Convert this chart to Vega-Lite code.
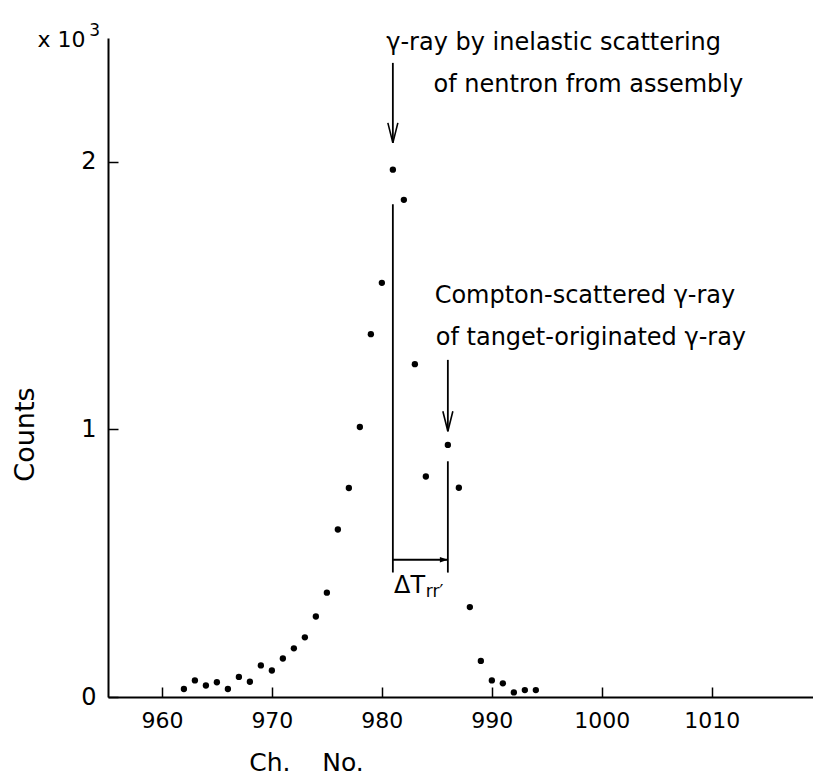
{
  "$schema": "https://vega.github.io/schema/vega-lite/v6.json",
  "width": 705,
  "height": 659,
  "autosize": {"type": "none"},
  "padding": {"left": 108, "top": 38, "right": 0, "bottom": 81},
  "background": "white",
  "config": {"view": {"stroke": null}, "font": "DejaVu Sans"},
  "datasets": {
    "spectrum": [
      {"ch": 962, "counts": 30}, {"ch": 963, "counts": 62}, {"ch": 964, "counts": 43},
      {"ch": 965, "counts": 55}, {"ch": 966, "counts": 30}, {"ch": 967, "counts": 75},
      {"ch": 968, "counts": 57}, {"ch": 969, "counts": 118}, {"ch": 970, "counts": 99},
      {"ch": 971, "counts": 144}, {"ch": 972, "counts": 182}, {"ch": 973, "counts": 223},
      {"ch": 974, "counts": 301}, {"ch": 975, "counts": 390}, {"ch": 976, "counts": 626},
      {"ch": 977, "counts": 781}, {"ch": 978, "counts": 1009}, {"ch": 979, "counts": 1356},
      {"ch": 980, "counts": 1548}, {"ch": 981, "counts": 1971}, {"ch": 982, "counts": 1858},
      {"ch": 983, "counts": 1244}, {"ch": 984, "counts": 824}, {"ch": 986, "counts": 942},
      {"ch": 987, "counts": 782}, {"ch": 988, "counts": 336}, {"ch": 989, "counts": 135},
      {"ch": 990, "counts": 62}, {"ch": 991, "counts": 51}, {"ch": 992, "counts": 17},
      {"ch": 993, "counts": 26}, {"ch": 994, "counts": 26}
    ],
    "lines": [
      {"ch": 981, "ch2": 981, "counts": 2370, "counts2": 2071},
      {"ch": 981, "ch2": 981, "counts": 1842, "counts2": 465},
      {"ch": 986, "ch2": 986, "counts": 1260, "counts2": 993},
      {"ch": 986, "ch2": 986, "counts": 881, "counts2": 465},
      {"ch": 981, "ch2": 986, "counts": 513, "counts2": 513}
    ],
    "heads": [
      {"ch": 981, "counts": 2071, "dir": "down"},
      {"ch": 986, "counts": 993, "dir": "down"},
      {"ch": 986, "counts": 513, "dir": "right"}
    ],
    "labels": [
      {"ch": 980.4, "counts": 2418, "text": "γ-ray by inelastic scattering", "kind": "note"},
      {"ch": 984.7, "counts": 2262, "text": "of nentron from assembly", "kind": "note"},
      {"ch": 984.8, "counts": 1472, "text": "Compton-scattered γ-ray", "kind": "note"},
      {"ch": 984.9, "counts": 1316, "text": "of tanget-originated γ-ray", "kind": "note"},
      {"ch": 981.1, "counts": 390, "text": "ΔT", "kind": "note"},
      {"ch": 984.0, "counts": 372, "text": "rr′", "kind": "sub"},
      {"ch": 948.7, "counts": 2430, "text": "x 10", "kind": "unit"},
      {"ch": 953.4, "counts": 2470, "text": "3", "kind": "sub"}
    ]
  },
  "layer": [
    {
      "data": {"name": "spectrum"},
      "mark": {"type": "circle", "size": 40, "color": "black", "opacity": 1},
      "encoding": {
        "x": {
          "field": "ch", "type": "quantitative",
          "scale": {"domain": [955.1, 1019.2], "nice": false, "zero": false},
          "axis": {
            "values": [960, 970, 980, 990, 1000, 1010], "format": "d",
            "grid": false, "domainColor": "black", "domainWidth": 2,
            "tickColor": "black", "tickWidth": 1.5, "tickSize": -10,
            "labelFont": "DejaVu Sans", "labelFontSize": 22, "labelColor": "black",
            "labelPadding": 23, "labelFlush": false,
            "title": "Ch.\u00a0\u00a0\u00a0\u00a0No.", "titleFont": "DejaVu Sans", "titleFontSize": 25,
            "titleFontWeight": "normal", "titleColor": "black",
            "titleX": 198, "titleY": 73, "titleBaseline": "alphabetic", "titleAnchor": "middle", "titleAlign": "center"
          }
        },
        "y": {
          "field": "counts", "type": "quantitative",
          "scale": {"domain": [0, 2463], "nice": false},
          "axis": {
            "values": [0, 1000, 2000], "labelExpr": "datum.value / 1000",
            "grid": false, "domainColor": "black", "domainWidth": 2,
            "tickColor": "black", "tickWidth": 1.5, "tickSize": -10,
            "labelFont": "DejaVu Sans", "labelFontSize": 24, "labelColor": "black",
            "labelPadding": 22,
            "title": "Counts", "titleFont": "DejaVu Sans", "titleFontSize": 27,
            "titleFontWeight": "normal", "titleColor": "black",
            "titleX": -83, "titleY": 396, "titleBaseline": "middle", "titleAlign": "center", "titleAngle": -90
          }
        }
      }
    },
    {
      "data": {"name": "lines"},
      "mark": {"type": "rule", "color": "black", "strokeWidth": 1.8},
      "encoding": {
        "x": {"field": "ch", "type": "quantitative"},
        "x2": {"field": "ch2"},
        "y": {"field": "counts", "type": "quantitative"},
        "y2": {"field": "counts2"}
      }
    },
    {
      "data": {"name": "heads"},
      "transform": [{"filter": "datum.dir === 'down'"}],
      "mark": {"type": "point", "shape": "M -0.25 -1 L 0 0 L 0.25 -1", "size": 1600, "filled": false, "color": "black", "strokeWidth": 1.6, "opacity": 1},
      "encoding": {
        "x": {"field": "ch", "type": "quantitative"},
        "y": {"field": "counts", "type": "quantitative"}
      }
    },
    {
      "data": {"name": "heads"},
      "transform": [{"filter": "datum.dir === 'right'"}],
      "mark": {"type": "point", "shape": "M -1 -0.35 L 0 0 L -1 0.35 Z", "size": 256, "filled": true, "color": "black", "opacity": 1},
      "encoding": {
        "x": {"field": "ch", "type": "quantitative"},
        "y": {"field": "counts", "type": "quantitative"}
      }
    },
    {
      "data": {"name": "labels"},
      "transform": [{"filter": "datum.kind === 'note'"}],
      "mark": {"type": "text", "align": "left", "baseline": "alphabetic", "font": "DejaVu Sans", "fontSize": 24, "color": "black"},
      "encoding": {
        "x": {"field": "ch", "type": "quantitative"},
        "y": {"field": "counts", "type": "quantitative"},
        "text": {"field": "text"}
      }
    },
    {
      "data": {"name": "labels"},
      "transform": [{"filter": "datum.kind === 'sub'"}],
      "mark": {"type": "text", "align": "left", "baseline": "alphabetic", "font": "DejaVu Sans", "fontSize": 17, "color": "black"},
      "encoding": {
        "x": {"field": "ch", "type": "quantitative"},
        "y": {"field": "counts", "type": "quantitative"},
        "text": {"field": "text"}
      }
    },
    {
      "data": {"name": "labels"},
      "transform": [{"filter": "datum.kind === 'unit'"}],
      "mark": {"type": "text", "align": "left", "baseline": "alphabetic", "font": "DejaVu Sans", "fontSize": 22, "color": "black"},
      "encoding": {
        "x": {"field": "ch", "type": "quantitative"},
        "y": {"field": "counts", "type": "quantitative"},
        "text": {"field": "text"}
      }
    }
  ]
}
